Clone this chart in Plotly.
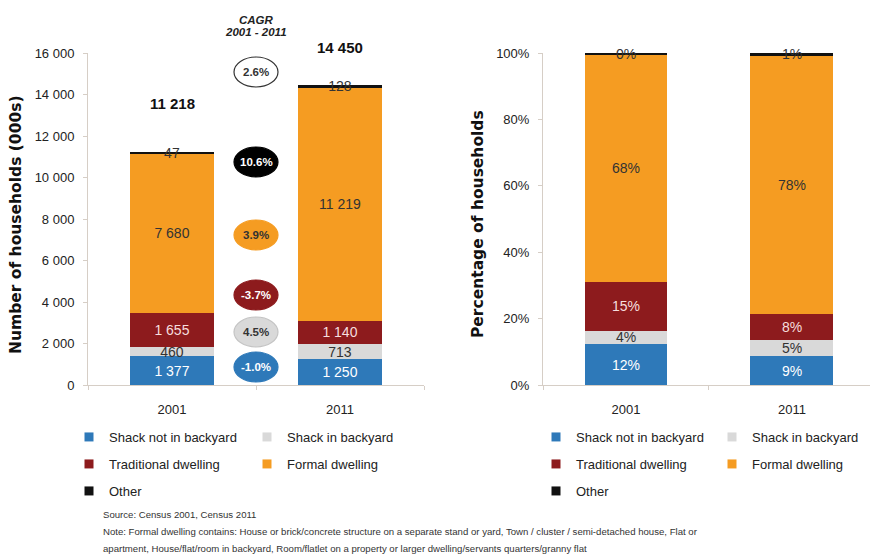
import plotly.graph_objects as go

# ---------------- data ----------------
categories = ["2001", "2011"]
series_names = ["Shack not in backyard", "Shack in backyard", "Traditional dwelling",
                "Formal dwelling", "Other"]
shack_not_backyard = [1377, 1250]
shack_backyard = [460, 713]
traditional = [1655, 1140]
formal = [7680, 11219]
other = [47, 128]
totals = [11218, 14450]
cagr_labels = ["-1.0%", "4.5%", "-3.7%", "3.9%", "10.6%", "2.6%"]
y_ticks_left = [0, 2000, 4000, 6000, 8000, 10000, 12000, 14000, 16000]
y_ticks_right = [0, 20, 40, 60, 80, 100]
source_note = "Source: Census 2001, Census 2011"
note_line1 = ("Note: Formal dwelling contains: House or brick/concrete structure on a separate stand or yard, "
              "Town / cluster / semi-detached house, Flat or")
note_line2 = ("apartment, House/flat/room in backyard, Room/flatlet on a property or larger "
              "dwelling/servants quarters/granny flat")

series_values = [shack_not_backyard, shack_backyard, traditional, formal, other]

# ---------------- styles ----------------
W, H = 870, 557
colors = ["#2e79b9", "#d9d9d9", "#8d1b1d", "#f59c22", "#111111"]
text_colors = ["#ffffff", "#333333", "#f6dede", "#333333", "#333333"]
cagr_fill = ["#2e79b9", "#d9d9d9", "#8d1b1d", "#f59c22", "#000000", "#ffffff"]
cagr_line = ["#2e79b9", "#c4c4c4", "#8d1b1d", "#f59c22", "#000000", "#333333"]
cagr_text = ["#ffffff", "#333333", "#ffffff", "#333333", "#ffffff", "#333333"]
cagr_pos = [867, 2554, 4337, 7229, 10747, 15084]   # vertical placement of the CAGR bubbles
total_shift = [49, 38]
FONT = "Liberation Sans, Arial, sans-serif"
TITLE_FONT = "DejaVu Sans, Verdana, sans-serif"
AXIS_COLOR = "#d6cec6"

# one legend per entry
legend_cols_left = [69, 247]
legend_cols_right = [536, 712]
legend_rows_y = [437, 464, 491]
legend_slots = [(0, 0, 0), (0, 1, 1), (1, 0, 2), (1, 1, 3), (2, 0, 4)]  # (row, col, series)

fig = go.Figure()

# shares for right chart
sums = [sum(s[i] for s in series_values) for i in range(len(categories))]
pct_values = [[v / sums[i] * 100 for i, v in enumerate(s)] for s in series_values]

for k, name in enumerate(series_names):
    fig.add_trace(go.Bar(
        x=categories, y=series_values[k], name=name, legendgroup="L" + name, showlegend=False,
        marker=dict(color=colors[k], line=dict(width=0)), width=0.5,
        texttemplate="%{y:,}", textposition="inside", textangle=0, insidetextanchor="middle",
        textfont=dict(color=text_colors[k], size=14, family=FONT),
        cliponaxis=False, xaxis="x", yaxis="y", hoverinfo="x+y+name"))
    fig.add_trace(go.Bar(
        x=categories, y=pct_values[k], name=name, legendgroup="R" + name, showlegend=False,
        marker=dict(color=colors[k], line=dict(width=0)), width=0.5,
        text=[f"{p:.0f}%" for p in pct_values[k]], texttemplate="%{text}",
        textposition="inside", textangle=0, insidetextanchor="middle",
        textfont=dict(color=text_colors[k], size=14, family=FONT),
        cliponaxis=False, xaxis="x2", yaxis="y2", hoverinfo="x+text+name"))

# legend entries
legend_layout = {}
n = 0
for side, cols in (("L", legend_cols_left), ("R", legend_cols_right)):
    for row, col, k in legend_slots:
        n += 1
        lid = "legend" if n == 1 else f"legend{n}"
        fig.add_trace(go.Scatter(
            x=[None], y=[None], mode="markers", name=series_names[k],
            legendgroup=side + series_names[k], legend=lid, showlegend=True,
            marker=dict(symbol="square", size=9, color=colors[k]),
            xaxis="x" if side == "L" else "x2", yaxis="y" if side == "L" else "y2"))
        legend_layout[lid] = dict(
            x=cols[col] / W, y=1 - legend_rows_y[row] / H, xanchor="left", yanchor="middle",
            orientation="h", bgcolor="rgba(0,0,0,0)",
            font=dict(family=FONT, size=13, color="#222222"), itemclick=False, itemdoubleclick=False)

ydom = [(H - 385) / H, (H - 53) / H]
common_x = dict(type="category", showline=True, linecolor=AXIS_COLOR, linewidth=1,
                showgrid=False, zeroline=False, automargin=False,
                ticks="outside", tickson="boundaries", ticklen=4, tickcolor=AXIS_COLOR,
                tickfont=dict(size=13, color="#222222"), ticklabelstandoff=12)
common_y = dict(showline=True, linecolor=AXIS_COLOR, linewidth=1, showgrid=False, zeroline=False,
                automargin=False, ticks="outside", ticklen=4, tickcolor=AXIS_COLOR,
                ticklabelstandoff=6, tickfont=dict(size=13, color="#222222"))
fig.update_layout(
    width=W, height=H, margin=dict(l=0, r=0, t=0, b=0, autoexpand=False),
    paper_bgcolor="white", plot_bgcolor="white",
    barmode="stack", separators=". ",
    uniformtext=dict(mode="show", minsize=14),
    font=dict(family=FONT, size=13, color="#222222"),
    xaxis=dict(domain=[88 / W, 424 / W], range=[-0.5, 1.5], anchor="y", **common_x),
    yaxis=dict(domain=ydom, range=[0, 16000], tickvals=y_ticks_left,
               ticktext=[f"{v:,}".replace(",", " ") for v in y_ticks_left], anchor="x", **common_y),
    xaxis2=dict(domain=[543 / W, 1.0], range=[-0.5, 1.47], anchor="y2", **common_x),
    yaxis2=dict(domain=ydom, range=[0, 100], tickvals=y_ticks_right,
                ticktext=[f"{v}%" for v in y_ticks_right], anchor="x2", **common_y),
    **legend_layout,
)

# axis titles
fig.add_annotation(x=16 / W, y=1 - 225 / H, xref="paper", yref="paper", textangle=-90,
                   xanchor="center", yanchor="middle",
                   text="<b>Number of households (000s)</b>", showarrow=False,
                   font=dict(family=TITLE_FONT, size=15.5, color="#111111"))
fig.add_annotation(x=478 / W, y=1 - 224 / H, xref="paper", yref="paper", textangle=-90,
                   xanchor="center", yanchor="middle",
                   text="<b>Percentage of households</b>", showarrow=False,
                   font=dict(family=TITLE_FONT, size=15.5, color="#111111"))

# totals above bars
for i, cat in enumerate(categories):
    fig.add_annotation(x=i, y=totals[i], xref="x", yref="y", yshift=total_shift[i],
                       text="<b>" + f"{totals[i]:,}".replace(",", " ") + "</b>", showarrow=False,
                       font=dict(size=15, color="#111111", family=FONT), yanchor="middle")

# CAGR bubbles between the two bars
for i, lab in enumerate(cagr_labels):
    fig.add_shape(type="circle", xref="x", yref="y", xsizemode="pixel", ysizemode="pixel",
                  xanchor=0.5, yanchor=cagr_pos[i], x0=-22, x1=22, y0=-15, y1=15,
                  fillcolor=cagr_fill[i], line=dict(color=cagr_line[i], width=1.2), layer="above")
    fig.add_annotation(x=0.5, y=cagr_pos[i], xref="x", yref="y", text="<b>" + lab + "</b>",
                       showarrow=False, font=dict(size=11.5, color=cagr_text[i], family=FONT))

fig.add_annotation(x=256 / W, y=1 - 12 / H, xref="paper", yref="paper", text="<b><i>CAGR</i></b>",
                   xanchor="center", showarrow=False, font=dict(size=11.5, color="#222222", family=FONT))
fig.add_annotation(x=256 / W, y=1 - 24 / H, xref="paper", yref="paper", text="<b><i>2001 - 2011</i></b>",
                   xanchor="center", showarrow=False, font=dict(size=11.5, color="#222222", family=FONT))

# notes
for txt, yy in [(source_note, 514), (note_line1, 531), (note_line2, 548)]:
    fig.add_annotation(x=101 / W, y=1 - yy / H, xref="paper", yref="paper", xanchor="left",
                       yanchor="middle", text=txt, showarrow=False,
                       font=dict(size=9.6, color="#333333", family=FONT))

fig.write_html("out.html")
